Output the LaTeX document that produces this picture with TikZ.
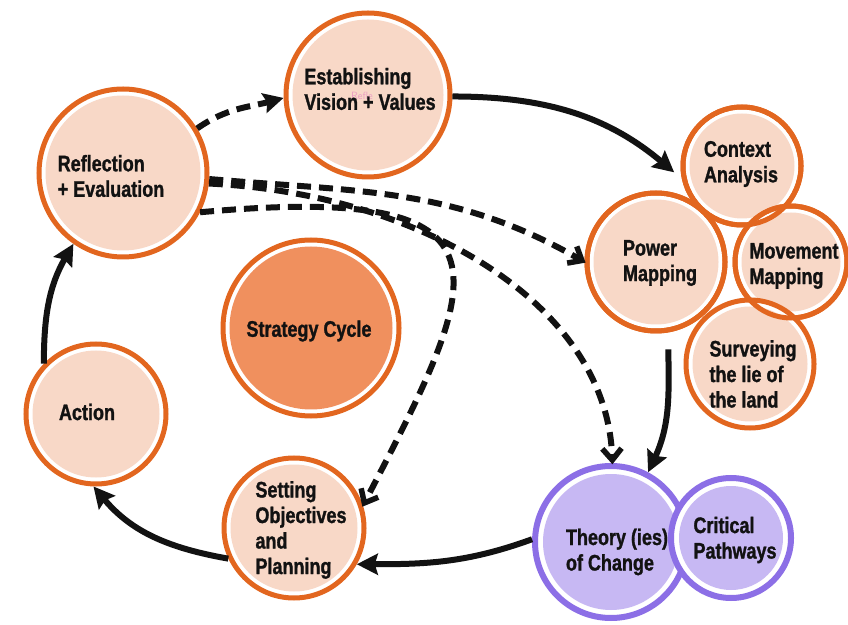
\documentclass[tikz,border=0pt]{standalone}
\usepackage{fontspec}
\newfontfamily\lab[FakeStretch=0.8, BoldFeatures={FakeBold=1.2}]{Liberation Sans}
\usetikzlibrary{arrows.meta,calc}
\definecolor{orng}{HTML}{E2661F}
\definecolor{peach}{HTML}{F8D8C7}
\definecolor{core}{HTML}{F0905E}
\definecolor{purp}{HTML}{8C6FE6}
\definecolor{lilac}{HTML}{C7B8F3}
\definecolor{ink}{HTML}{121212}
\definecolor{pinky}{HTML}{EA9CC2}
\begin{document}
\begin{tikzpicture}[x=1pt,y=1pt,
  bub/.style 2 args={circle, inner sep=0pt, minimum size=2*#1, draw=orng, line width=5pt, fill=white,
     path picture={\fill[#2] (path picture bounding box.center) circle[radius=#1-6.5];}},
  pbub/.style={circle, inner sep=0pt, minimum size=2*#1, draw=purp, line width=6pt, fill=white,
     path picture={\fill[lilac] (path picture bounding box.center) circle[radius=#1-8];}},
  ring/.style={draw=orng, line width=5pt},
  txt/.style={font=\lab\bfseries\fontsize{22.5}{25.5}\selectfont, text=ink, align=left, inner sep=0pt},
  conn/.style={draw=ink, line width=6pt, -{Stealth[length=21pt,width=21pt,inset=3pt]}},
  dsh/.style={draw=ink, line width=6pt, dash pattern=on 14pt off 8pt},
  chevtip/.style={draw=ink, line width=5.5pt, solid, line join=miter, line cap=butt},
  tri/.style={dsh, -{Stealth[length=20pt,width=20pt,inset=3pt]}}]
\useasboundingbox (0,0) rectangle (848,624);
% circles
\node[bub={84}{peach}] (ref) at (123,451) {};
\node[bub={82}{peach}] (est) at (368,529) {};
\node[bub={88}{core}] (str) at (311,296) {};
\node[bub={70}{peach}] (act) at (96,210) {};
\node[bub={70}{peach}] (set) at (294,96) {};
\node[bub={69}{peach}] (pow) at (656,362) {};
\node[bub={59}{peach}] (ctx) at (742,458) {};
\node[bub={56}{peach}] (mov) at (791,362) {};
\node[bub={64}{peach}] (sur) at (750,260) {};
\draw[ring] (pow.center) circle[radius=69];
\draw[ring] (ctx.center) circle[radius=59];
\draw[ring] (mov.center) circle[radius=56];
\node[pbub={76}] (toc) at (611,82) {};
\node[pbub={60}] (crit) at (731,86) {};
% texts
\node[txt] (t-ref) at (111,448) {Reflection\\+ Evaluation};
\node[font=\sffamily\fontsize{10.5}{11}\selectfont, text=pinky, inner sep=0pt] (t-refle) at (362,528) {Refle};
\node[txt] (t-est) at (370,535) {Establishing\\Vision + Values};
\node[txt] (t-ctx) at (741,460) {Context\\Analysis};
\node[txt] (t-pow) at (660,361) {Power\\Mapping};
\node[txt] (t-mov) at (794,358) {Movement\\Mapping};
\node[txt] (t-sur) at (753,250) {Surveying\\the lie of\\the land};
\node[txt] (t-str) at (309,293) {Strategy Cycle};
\node[txt] (t-act) at (87,212) {Action};
\node[txt] (t-set) at (301,94) {Setting\\Objectives\\and\\Planning};
\node[txt] (t-toc) at (617,72) {Theory (ies)\\of Change};
\node[txt] (t-crit) at (735,84) {Critical\\Pathways};
% solid cycle connectors
\draw[conn, shorten >=10pt] (est.-1) to[out=0,in=140] (ctx.192);
\draw[conn, shorten <=17pt] (pow.-80) to[out=-90,in=65] (toc.62);
\draw[conn] (toc.178) to[out=200,in=0] (set.-30);
\draw[conn] (set.205) to[out=170,in=-50] (act.-92);
\draw[conn] (act.136) to[out=90,in=240] (ref.235);
% dashed connectors from reflection
\draw[tri] (ref.31) to[out=35,in=195] (est.182);
\draw[dsh, shorten >=5pt] (ref.-4) to[out=-5,in=150] (pow.180);
\draw[chevtip] ($(pow.180)+(150:3)+(190:15)$) -- ($(pow.180)+(150:3)$) -- ($(pow.180)+(150:3)+(110:15)$);
\draw[dsh, shorten >=5pt] (ref.-7) .. controls +(210,-10) and +(-5,160) .. (toc.89);
\draw[chevtip] ($(toc.89)+(91.8:3)+(131.8:15)$) -- ($(toc.89)+(91.8:3)$) -- ($(toc.89)+(91.8:3)+(51.8:15)$);
\draw[dsh, shorten >=5pt] (ref.-27) .. controls +(330,30) and +(120,230) .. (set.18);
\draw[chevtip] ($(set.18)+(62.4:3)+(102.4:15)$) -- ($(set.18)+(62.4:3)$) -- ($(set.18)+(62.4:3)+(22.4:15)$);
\end{tikzpicture}
\end{document}
